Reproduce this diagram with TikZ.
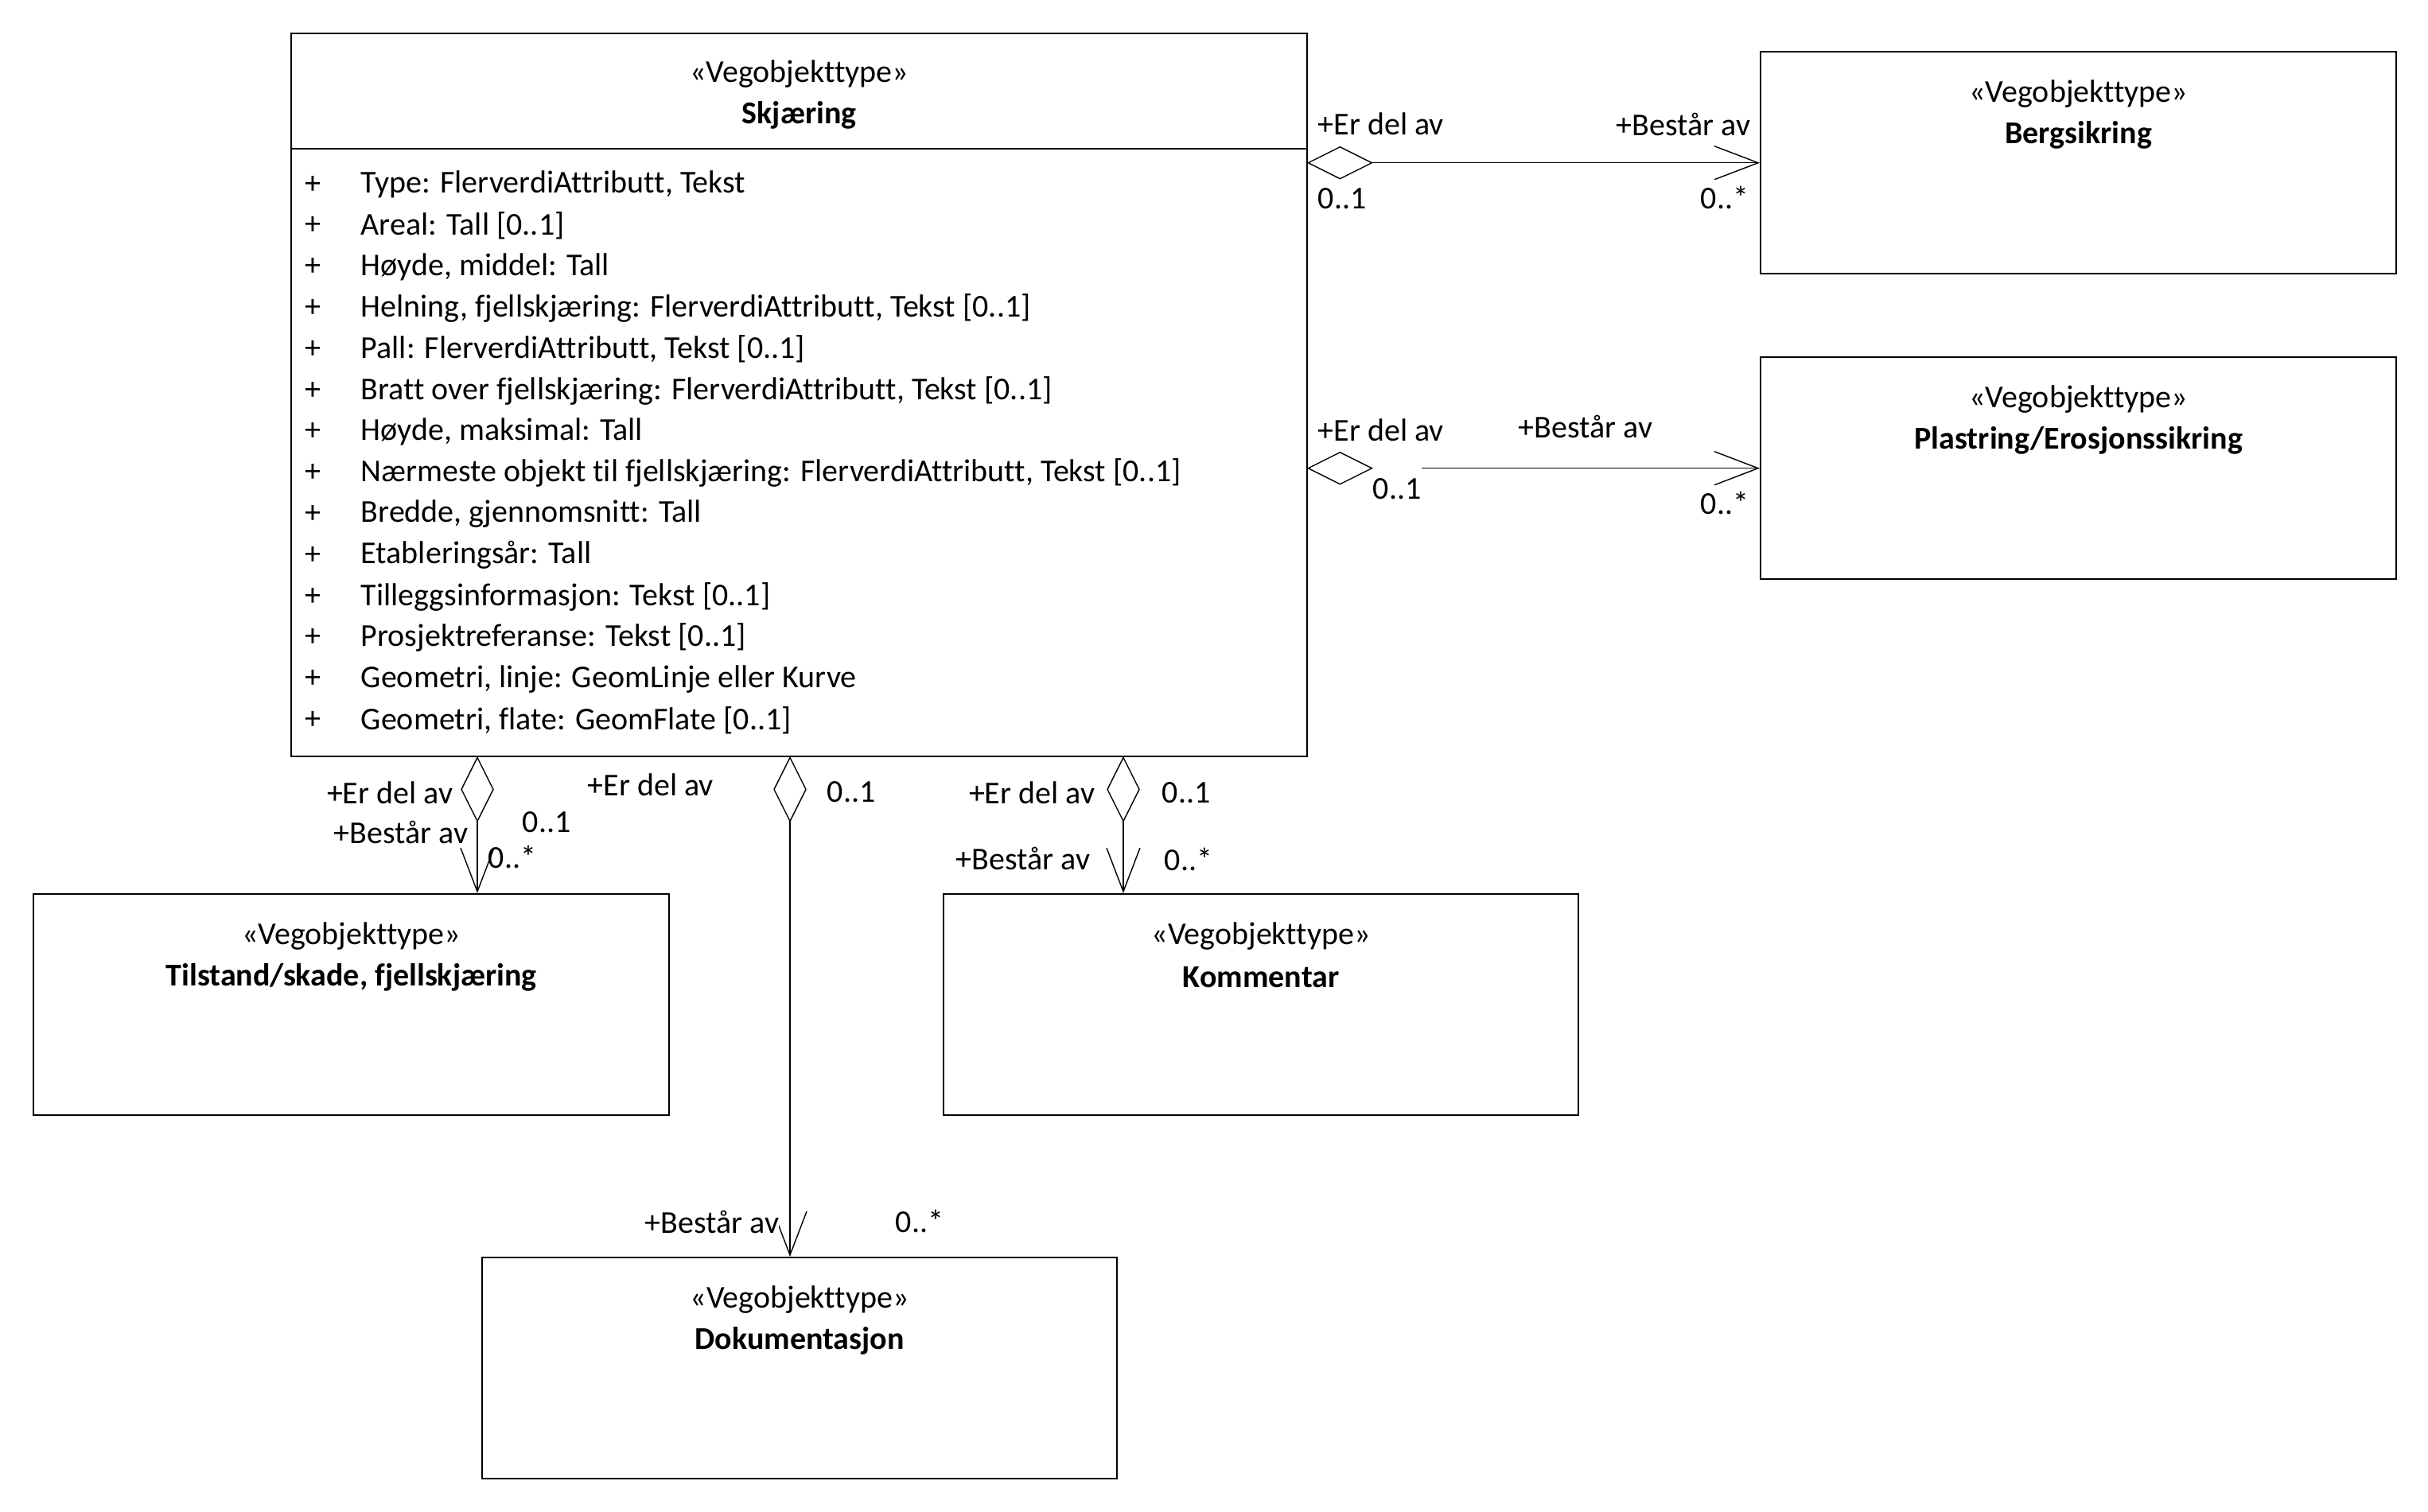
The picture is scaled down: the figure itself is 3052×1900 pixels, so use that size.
\documentclass[tikz,border=0pt]{standalone}
\usepackage{fontspec}
\setmainfont{Carlito}[Ligatures={NoCommon}]
\usetikzlibrary{arrows.meta,calc}

\begin{document}
\begin{tikzpicture}[x=0.25pt,y=-0.25pt,
  font=\fontsize{10pt}{12pt}\selectfont,
  ubox/.style 2 args={draw, line width=0.6pt, rectangle, inner sep=0pt,
    anchor=north west, minimum width=#1*0.25pt, minimum height=#2*0.25pt},
  lbl/.style={inner sep=0pt},
  bold/.style={inner sep=0pt, font=\fontsize{10pt}{12pt}\selectfont\bfseries},
  conn/.style={line width=0.35pt, -{Straight Barb[length=13.75pt,width=10.5pt,line width=0.35pt]}},
  hdiamond/.pic={\draw[line width=0.35pt, fill=white] (0,0) -- (40,-20) -- (80,0) -- (40,20) -- cycle;},
  vdiamond/.pic={\draw[line width=0.35pt, fill=white] (0,0) -- (-20,40) -- (0,80) -- (20,40) -- cycle;}
]
\path[use as bounding box] (0,0) rectangle (3052,1900);

% class boxes
\node[ubox={1277}{909}] (main) at (365,41) {};
\draw[line width=0.6pt] ($(main.north west)+(0,146)$) -- ($(main.north east)+(0,146)$);
\node[ubox={799}{279}] (berg) at (2212,64) {};
\node[ubox={799}{279}] (plast) at (2212,448) {};
\node[ubox={799}{278}] (tilst) at (41,1123) {};
\node[ubox={798}{278}] (komm) at (1185,1123) {};
\node[ubox={798}{278}] (dok) at (605,1580) {};

% class headings
\node[lbl] (mainS) at ($(main.north)+(0,52)$) {«Vegobjekttype»};
\node[bold] (mainN) at ($(main.north)+(0,104)$) {Skjæring};
\foreach \b/\t in {berg/Bergsikring, plast/Plastring\slash Erosjonssikring,
    tilst/{Tilstand/skade, fjellskjæring}, komm/Kommentar, dok/Dokumentasjon}{
  \node[lbl] (\b S) at ($(\b.north)+(0,54)$) {«Vegobjekttype»};
  \node[bold] (\b N) at ($(\b.north)+(0,106)$) {\t};
}

% attributes
\foreach \a [count=\i from 0] in {
  {Type: FlerverdiAttributt, Tekst},
  {Areal: Tall [0..1]},
  {Høyde, middel: Tall},
  {Helning, fjellskjæring: FlerverdiAttributt, Tekst [0..1]},
  {Pall: FlerverdiAttributt, Tekst [0..1]},
  {Bratt over fjellskjæring: FlerverdiAttributt, Tekst [0..1]},
  {Høyde, maksimal: Tall},
  {Nærmeste objekt til fjellskjæring: FlerverdiAttributt, Tekst [0..1]},
  {Bredde, gjennomsnitt: Tall},
  {Etableringsår: Tall},
  {Tilleggsinformasjon: Tekst [0..1]},
  {Prosjektreferanse: Tekst [0..1]},
  {Geometri, linje: GeomLinje eller Kurve},
  {Geometri, flate: GeomFlate [0..1]}}{
  \node[lbl] (vis\i) at (393,{232+51.8*\i}) {+};
  \node[lbl, anchor=west] (att\i) at (453,{232+51.8*\i}) {\a};
}

% column positions of the vertical associations
\coordinate (jt) at (600,0);
\coordinate (jd) at (993,0);
\coordinate (jk) at (1412,0);

% aggregations to Bergsikring and Plastring
\pic at (main.east |- berg.west) {hdiamond};
\draw[conn] ($(main.east |- berg.west)+(80,0)$) -- (berg.west);
\pic at (main.east |- plast.west) {hdiamond};
\draw[conn] ($(main.east |- plast.west)+(143,0)$) -- (plast.west);

% aggregations downwards
\pic at (jt |- main.south) {vdiamond};
\draw[conn] ($(jt |- main.south)+(0,80)$) -- (jt |- tilst.north);
\pic at (jd |- main.south) {vdiamond};
\draw[conn] ($(jd |- main.south)+(0,80)$) -- (jd |- dok.north);
\pic at (jk |- main.south) {vdiamond};
\draw[conn] ($(jk |- main.south)+(0,80)$) -- (jk |- komm.north);

% role names and multiplicities
\node[lbl, anchor=west] (b1) at (1656,156) {+Er del av};
\node[lbl, anchor=east] (b2) at (2201,156) {+Består av};
\node[lbl, anchor=west] (b3) at (1656,250) {0..1};
\node[lbl, anchor=west] (b4) at (2137,248) {0..*};

\node[lbl, anchor=west] (p1) at (1656,541) {+Er del av};
\node[lbl, anchor=west] (p2) at (1908,536) {+Består av};
\node[lbl, anchor=west] (p3) at (1725,615) {0..1};
\node[lbl, anchor=west] (p4) at (2137,632) {0..*};

\node[lbl, anchor=east] (t1) at (570,997) {+Er del av};
\node[lbl, anchor=east] (t2) at (589,1046) {+Består av};
\node[lbl, anchor=west] (t3) at (656,1034) {0..1};
\node[lbl, anchor=west] (t4) at (613,1077) {0..*};

\node[lbl, anchor=west] (d1) at (738,987) {+Er del av};
\node[lbl, anchor=west] (d3) at (1039,996) {0..1};
\node[lbl, anchor=east, fill=white] (d2) at (980,1536) {+Består av};
\node[lbl, anchor=west] (d4) at (1125,1535) {0..*};

\node[lbl, anchor=east] (k1) at (1377,997) {+Er del av};
\node[lbl, anchor=west] (k3) at (1460,997) {0..1};
\node[lbl, anchor=east] (k2) at (1371,1079) {+Består av};
\node[lbl, anchor=west] (k4) at (1463,1080) {0..*};
\end{tikzpicture}
\end{document}
